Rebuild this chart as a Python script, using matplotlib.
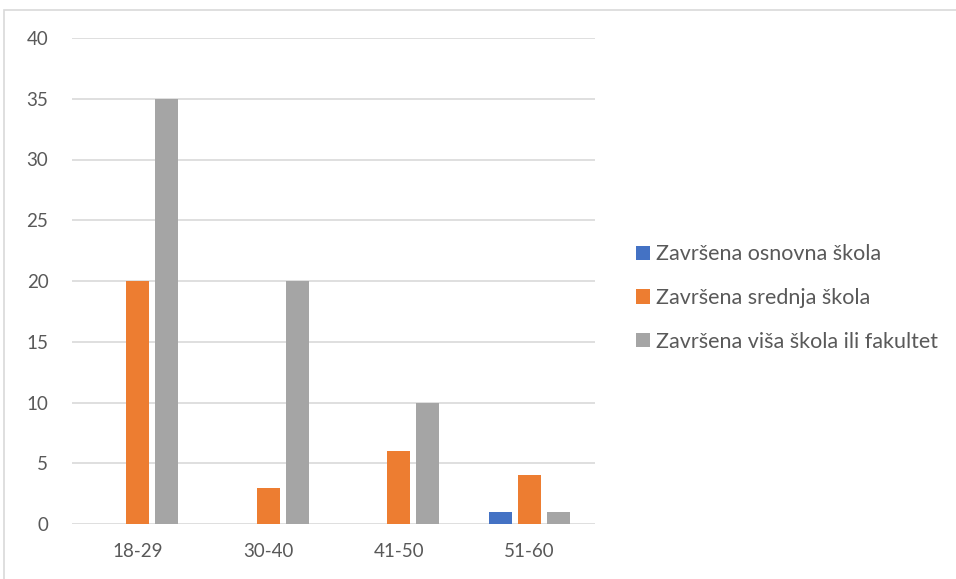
import numpy as np
import matplotlib.pyplot as plt
from matplotlib.patches import Rectangle

plt.rcParams['font.family'] = ['Lato', 'DejaVu Sans']

# podaci
kategorije = ['18-29', '30-40', '41-50', '51-60']
osnovna = [0, 0, 0, 1]
srednja = [20, 3, 6, 4]
visa = [35, 20, 10, 1]
serije = ['Završena osnovna škola', 'Završena srednja škola', 'Završena viša škola ili fakultet']
boje = ['#4472C4', '#ED7D31', '#A5A5A5']

fig = plt.figure(figsize=(9.56, 5.79), dpi=100)
ax = fig.add_axes([72/956, 1 - 524/579, (595-72)/956, (524-38)/579])

x = np.arange(len(kategorije))
w = 0.176
korak = 0.222
for i, (vrijednosti, ime, boja) in enumerate(zip([osnovna, srednja, visa], serije, boje)):
    ax.bar(x + (i - 1) * korak, vrijednosti, width=w, color=boja, label=ime, zorder=3)

ax.set_xlim(-0.5, len(kategorije) - 0.5)
ax.set_ylim(0, 40)
ax.set_yticks(range(0, 41, 5))
ax.set_xticks(x)
ax.set_xticklabels(kategorije)
ax.yaxis.grid(True, color='#D9D9D9', linewidth=1.2, zorder=0)
for s in ax.spines.values():
    s.set_visible(False)
ax.tick_params(length=0, labelsize=13.5, colors='#595959')
ax.tick_params(axis='y', pad=17)
ax.tick_params(axis='x', pad=14)

# okvir grafikona
fig.patches.append(Rectangle((4/956, -0.1), 1.1, 1 - 10/579 + 0.1, transform=fig.transFigure,
                             fill=False, edgecolor='#D9D9D9', linewidth=1.2))

leg = fig.legend(loc='center left', bbox_to_anchor=(636/956, 1 - 298/579), frameon=False,
                 fontsize=15.5, handlelength=0.65, handleheight=0.65, handletextpad=0.3,
                 labelspacing=1.1, borderpad=0, borderaxespad=0)
for t in leg.get_texts():
    t.set_color('#595959')

plt.savefig('out.png', dpi=100)
